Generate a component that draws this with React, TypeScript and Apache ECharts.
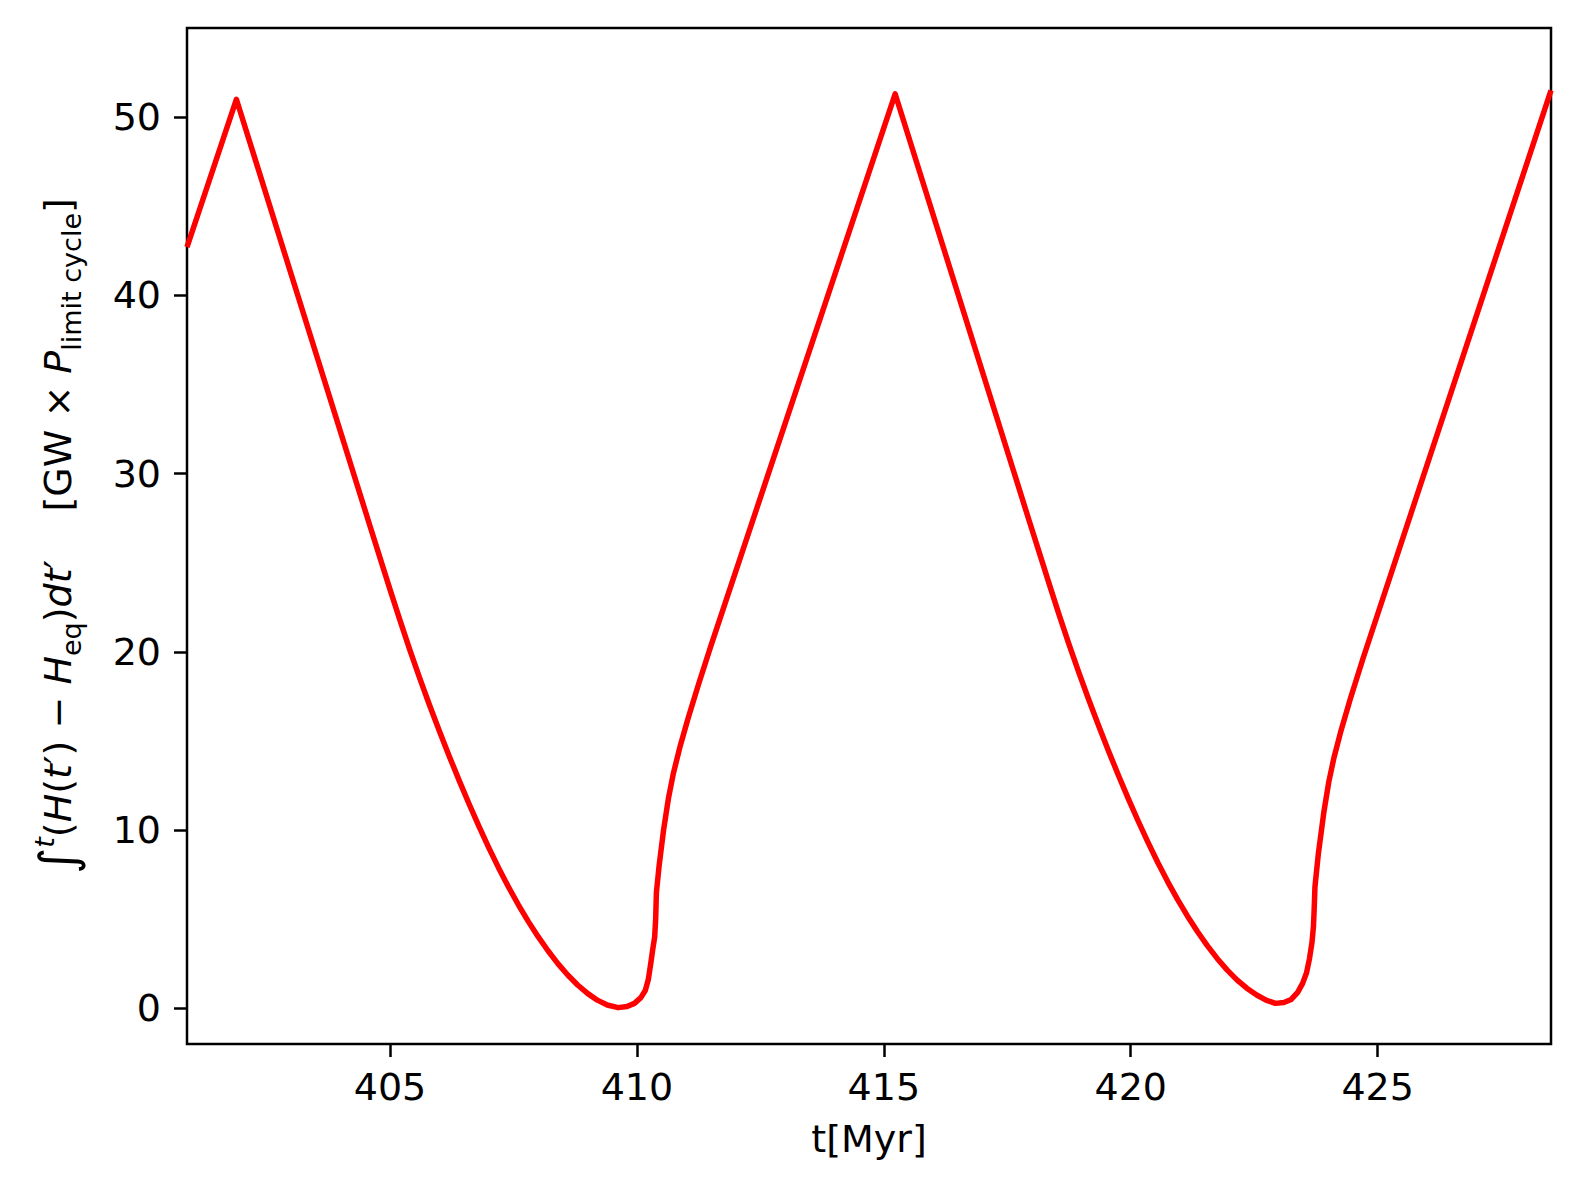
import React, { useEffect, useRef } from 'react';
import * as echarts from 'echarts';

// Time axis (Myr) and integrated value
const timeMyr = [
  400.89, 401.89,
  404.60, 404.80, 405.00, 405.20, 405.40, 405.60, 405.80, 406.00, 406.20, 406.40,
  406.60, 406.80, 407.00, 407.20, 407.40, 407.60, 407.80, 408.00, 408.20, 408.40,
  408.60, 408.80, 409.00, 409.20, 409.40, 409.62, 409.80, 409.95, 410.08, 410.17,
  410.23, 410.28, 410.32, 410.36, 410.38, 410.395, 410.45, 410.54, 410.64, 410.74,
  410.88, 411.04, 411.25, 411.50, 415.23,
  417.95, 418.15, 418.35, 418.55, 418.75, 418.95, 419.15, 419.35, 419.55, 419.75,
  419.95, 420.15, 420.35, 420.55, 420.75, 420.95, 421.15, 421.35, 421.55, 421.75,
  421.95, 422.15, 422.35, 422.55, 422.75, 422.93, 423.10, 423.25, 423.38, 423.48,
  423.56, 423.62, 423.67, 423.70, 423.715, 423.73, 423.80, 423.91, 424.01, 424.11,
  424.25, 424.45, 424.70, 428.51,
];
const integralValues = [
  42.7, 51.0,
  27.02, 25.26, 23.51, 21.79, 20.13, 18.54, 17.02, 15.56, 14.15, 12.79,
  11.48, 10.22, 9.02, 7.88, 6.81, 5.81, 4.88, 4.02, 3.23, 2.51,
  1.87, 1.31, 0.84, 0.46, 0.19, 0.04, 0.10, 0.28, 0.6, 1.0,
  1.6, 2.5, 3.3, 4.0, 5.0, 6.5, 8.0, 10.0, 11.8, 13.2,
  14.75, 16.3, 18.2, 20.35, 51.3,
  27.3, 25.55, 23.8, 22.08, 20.42, 18.83, 17.31, 15.85, 14.44, 13.08,
  11.77, 10.51, 9.31, 8.17, 7.1, 6.1, 5.17, 4.31, 3.52, 2.8,
  2.16, 1.6, 1.13, 0.75, 0.45, 0.28, 0.33, 0.5, 0.9, 1.4,
  2.0, 2.8, 3.7, 4.6, 5.6, 6.8, 8.7, 11.0, 12.7, 14.0,
  15.5, 17.4, 19.6, 51.5,
];
const xTickValues = [405, 410, 415, 420, 425];
const yTickValues = [0, 10, 20, 30, 40, 50];
const xLimits = [400.89, 428.51];
const yLimits = [-2, 55];
const xAxisTitle = 't[Myr]';

export default function App() {
  const ref = useRef<HTMLDivElement>(null);
  useEffect(() => {
    const chart = echarts.init(ref.current!, null, { renderer: 'svg' });
    const font = 'DejaVu Sans';
    const fs = 38;
    const data = timeMyr.map((t, i) => [t, integralValues[i]]);
    chart.setOption({
      animation: false,
      backgroundColor: '#ffffff',
      grid: {
        left: 187,
        right: 28,
        top: 28,
        bottom: 144,
        show: true,
        borderColor: '#000',
        borderWidth: 2.5,
        backgroundColor: 'transparent',
      },
      xAxis: {
        type: 'value',
        min: xLimits[0],
        max: xLimits[1],
        axisLine: { show: false, onZero: false },
        axisTick: {
          show: true,
          customValues: xTickValues,
          length: 13,
          lineStyle: { color: '#000', width: 2.5 },
        },
        axisLabel: {
          customValues: xTickValues,
          fontSize: fs,
          color: '#000',
          fontFamily: font,
          margin: 24,
        },
        splitLine: { show: false },
        name: xAxisTitle,
        nameLocation: 'middle',
        nameGap: 76,
        nameTextStyle: { fontSize: fs, color: '#000', fontFamily: font },
      },
      yAxis: {
        type: 'value',
        min: yLimits[0],
        max: yLimits[1],
        axisLine: { show: false, onZero: false },
        axisTick: {
          show: true,
          customValues: yTickValues,
          length: 13,
          lineStyle: { color: '#000', width: 2.5 },
        },
        axisLabel: {
          customValues: yTickValues,
          fontSize: fs,
          color: '#000',
          fontFamily: font,
          margin: 26,
        },
        splitLine: { show: false },
        name:
          '{int|∫}{sup|t}{n|(}{i|H}{n|(}{i|t}{n|′) − }{i|H}{sub|eq}{n|)}{i|dt}{n|′    [GW × }{i|P}{sub|limit cycle}{n|]}',
        nameLocation: 'middle',
        nameGap: 102,
        nameTextStyle: {
          fontSize: fs,
          color: '#000',
          fontFamily: font,
          rich: {
            n: { fontSize: fs, fontFamily: font, color: '#000', lineHeight: 54 },
            i: { fontSize: fs, fontFamily: font, color: '#000', fontStyle: 'italic', lineHeight: 54 },
            int: { fontSize: 50, fontFamily: font, color: '#000', lineHeight: 54 },
            sup: { fontSize: 27, fontFamily: font, color: '#000', fontStyle: 'italic', verticalAlign: 'top', lineHeight: 30 },
            sub: { fontSize: 27, fontFamily: font, color: '#000', verticalAlign: 'bottom', lineHeight: 32 },
          },
        },
      },
      series: [
        {
          type: 'line',
          data,
          showSymbol: false,
          symbol: 'none',
          lineStyle: { color: '#ff0000', width: 5.5, join: 'round' },
          itemStyle: { color: '#ff0000' },
          clip: true,
        },
      ],
    });
    return () => chart.dispose();
  }, []);
  return (
    <div
      ref={ref}
      style={{ position: 'absolute', left: 0, top: 0, width: '1579px', height: '1188px' }}
    />
  );
}
